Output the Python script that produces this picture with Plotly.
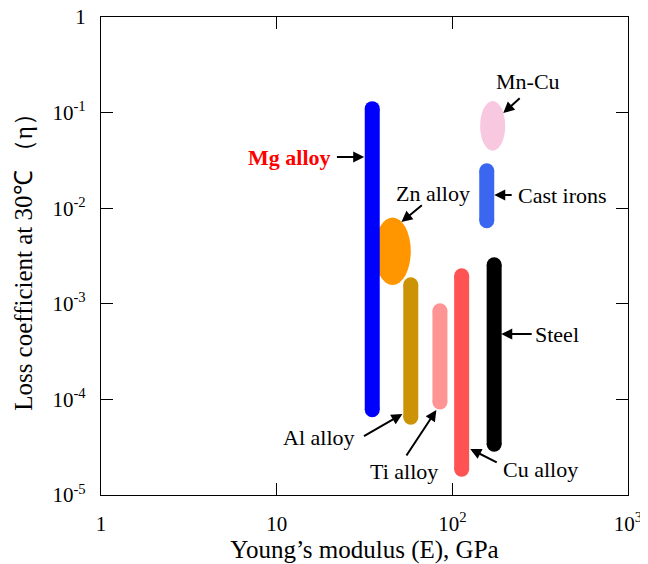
import numpy as np
import plotly.graph_objects as go

# ---- data (Young's modulus in GPa, loss coefficient) ----
bar_names = ["Mg alloy", "Al alloy", "Ti alloy", "Cu alloy", "Steel", "Cast irons"]
bar_E = [35, 58, 85, 113, 173, 157]
bar_eta_low = [7.8e-5, 6.5e-5, 9.4e-5, 1.86e-5, 3.4e-5, 7.4e-3]
bar_eta_high = [0.11, 1.58e-3, 8.45e-4, 1.96e-3, 2.56e-3, 0.0246]
bar_colors = ["#0000ff", "#cc9306", "#ff9494", "#ff5252", "#000000", "#3a66f0"]

ell_names = ["Zn alloy", "Mn-Cu"]
ell_E_low = [36, 144]
ell_E_high = [58, 200]
ell_eta_low = [1.57e-3, 0.0399]
ell_eta_high = [8.0e-3, 0.132]
ell_colors = ["#ff9600", "#f8c8e0"]

# label text positions (E, eta) and arrows (tail -> head) in data units
lab_text = ["<b>Mg alloy</b>", "Zn alloy", "Mn-Cu", "Cast irons", "Steel",
            "Al alloy", "Ti alloy", "Cu alloy"]
lab_color = ["#ff0000"] + ["black"] * 7
lab_E = [11.8, 78.0, 270, 421.7, 392.6, 17.4, 53.4, 319]
lab_eta = [0.0343, 0.0144, 0.209, 0.01374, 4.83e-4, 3.95e-5, 1.78e-5, 1.87e-5]
arr_tail_E = [21.6, 68.4, 246.6, 222, 288.5, 30.8, 54.1, 182.5]
arr_tail_eta = [0.0343, 0.01106, 0.1456, 0.01374, 4.83e-4, 4.04e-5, 2.50e-5, 2.16e-5]
arr_head_E = [31.5, 51.3, 195, 173.3, 189.9, 52.0, 81.1, 126.5]
arr_head_eta = [0.0343, 0.00717, 0.0990, 0.01374, 4.83e-4, 7.04e-5, 7.74e-5, 3.03e-5]

x_tickvals = [1, 10, 100, 1000]
x_ticktext = ["1", "10", "10<sup>2</sup>", "10<sup>3</sup>"]
y_tickvals = [1e-5, 1e-4, 1e-3, 1e-2, 1e-1, 1]
y_ticktext = ["10<sup>-5</sup>", "10<sup>-4</sup>", "10<sup>-3</sup>",
              "10<sup>-2</sup>", "10<sup>-1</sup>", "1"]

FONT = "Liberation Serif, Times New Roman, serif"

fig = go.Figure()

for name, E, lo, hi, c in zip(bar_names, bar_E, bar_eta_low, bar_eta_high, bar_colors):
    fig.add_trace(go.Scatter(
        x=[E, E], y=[lo, hi], mode="lines+markers", name=name,
        line=dict(color=c, width=15),
        marker=dict(color=c, size=15, line=dict(width=0)),
        hoverinfo="name", showlegend=False,
    ))

shapes = []
for name, x0, x1, y0, y1, c in zip(ell_names, ell_E_low, ell_E_high, ell_eta_low, ell_eta_high, ell_colors):
    shapes.append(dict(type="circle", xref="x", yref="y", x0=x0, x1=x1, y0=y0, y1=y1,
                       fillcolor=c, line=dict(width=0), layer="below"))

annotations = []
for t, c, xe, ye in zip(lab_text, lab_color, lab_E, lab_eta):
    annotations.append(dict(x=np.log10(xe), y=np.log10(ye), xref="x", yref="y",
                            text=t, showarrow=False,
                            font=dict(family=FONT, size=22, color=c),
                            xanchor="center", yanchor="middle"))
for tx, ty, hx, hy in zip(arr_tail_E, arr_tail_eta, arr_head_E, arr_head_eta):
    annotations.append(dict(x=np.log10(hx), y=np.log10(hy), xref="x", yref="y",
                            ax=np.log10(tx), ay=np.log10(ty), axref="x", ayref="y",
                            text="", showarrow=True, arrowhead=2, arrowsize=1.1,
                            arrowwidth=2, arrowcolor="black", standoff=0, startstandoff=0))

# page body has an 8px default margin, so the figure is 8px smaller than the window
fig.update_layout(
    width=640, height=556,
    margin=dict(l=93, r=20, t=9, b=69, autoexpand=False),
    paper_bgcolor="white", plot_bgcolor="white",
    font=dict(family=FONT, color="black"),
    shapes=shapes, annotations=annotations, showlegend=False,
)

axis_common = dict(
    type="log", ticks="inside", ticklen=12, tickwidth=1, tickcolor="black",
    showline=True, linecolor="black", linewidth=1.2, mirror="ticks",
    showgrid=False, zeroline=False, automargin=False, ticklabeloverflow="allow",
    tickfont=dict(family=FONT, size=21, color="black"),
)
fig.update_xaxes(**axis_common, range=[0, 3], tickvals=x_tickvals, ticktext=x_ticktext,
                 ticklabelstandoff=10,
                 title=dict(text="Young’s modulus (E), GPa", font=dict(family=FONT, size=25),
                            standoff=5))
fig.update_yaxes(**axis_common, range=[-5, 0], tickvals=y_tickvals, ticktext=y_ticktext,
                 ticklabelstandoff=10,
                 title=dict(text="Loss coefficient at 30℃ （η）", font=dict(family=FONT, size=25),
                            standoff=12))

fig.write_html("out.html")
